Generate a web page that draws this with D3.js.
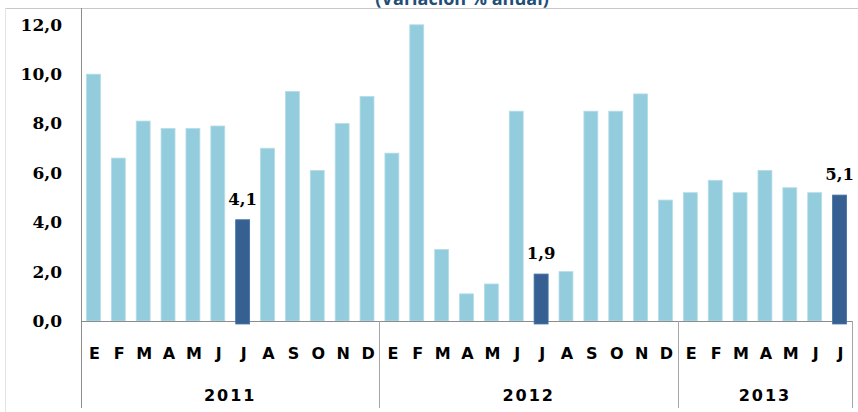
<!DOCTYPE html>
<html>
<head>
<meta charset="utf-8">
<script src="https://cdn.jsdelivr.net/npm/d3@7"></script>
<style>
  html, body { margin: 0; padding: 0; background: #ffffff; }
  svg { display: block; }
</style>
</head>
<body>
<div id="chart"></div>
<script>
// ---- Data ----
const title = "(Variación % anual)";
const years = ["2011", "2012", "2013"];
const monthLabels = ["E", "F", "M", "A", "M", "J", "J", "A", "S", "O", "N", "D"];
const values2011 = [10.0, 6.6, 8.1, 7.8, 7.8, 7.9, 4.1, 7.0, 9.3, 6.1, 8.0, 9.1];
const values2012 = [6.8, 12.0, 2.9, 1.1, 1.5, 8.5, 1.9, 2.0, 8.5, 8.5, 9.2, 4.9];
const values2013 = [5.2, 5.7, 5.2, 6.1, 5.4, 5.2, 5.1];
const highlightMonth = 6; // July of each year is highlighted and labelled
const yTicks = [0, 2, 4, 6, 8, 10, 12];

// Build flat table
const seriesByYear = [values2011, values2012, values2013];
const rows = [];
seriesByYear.forEach((vals, yi) => {
  vals.forEach((v, mi) => {
    rows.push({
      year: years[yi], yearIndex: yi, month: monthLabels[mi], monthIndex: mi, value: v,
      highlight: mi === highlightMonth
    });
  });
});
rows.forEach((r, i) => r.idx = i);

// ---- Layout ----
const W = 858, H = 412;
const plotLeft = 81, plotRight = 852, plotTop = 24.8, plotBottom = 321;
const lightColor = "#93CDDD";
const darkColor = "#376092";
const fmt = v => d3.format(".1f")(v).replace(".", ",");

const svg = d3.select("#chart").append("svg").attr("width", W).attr("height", H);

const x = d3.scaleBand()
  .domain(rows.map(r => r.idx))
  .range([plotLeft, plotRight])
  .paddingInner(0.44)
  .paddingOuter(0.22);

const y = d3.scaleLinear().domain([0, 12]).range([plotBottom, plotTop]);

// Frame lines (chart border)
svg.append("line").attr("x1", 5).attr("x2", W).attr("y1", 8.5).attr("y2", 8.5)
  .attr("stroke", "#c8c8c8").attr("stroke-width", 1);
svg.append("line").attr("x1", 5.5).attr("x2", 5.5).attr("y1", 8).attr("y2", 412)
  .attr("stroke", "#e4e4e4").attr("stroke-width", 1);

// Title (cut at the top edge, as in the reference)
svg.append("text")
  .attr("x", 462).attr("y", 5)
  .attr("text-anchor", "middle")
  .attr("font-family", "'Open Sans', 'DejaVu Sans', sans-serif")
  .attr("font-weight", "bold")
  .attr("font-size", 18)
  .attr("fill", "#1F4E79")
  .text(title);

// Bars
svg.append("g").selectAll("rect")
  .data(rows)
  .join("rect")
  .attr("x", d => x(d.idx))
  .attr("width", x.bandwidth())
  .attr("y", d => y(d.value))
  .attr("height", d => y(0) - y(d.value))
  .attr("fill", lightColor)
  .attr("stroke", "#b5dde8")
  .attr("stroke-width", 0.8);

// Axis baseline
svg.append("line")
  .attr("x1", plotLeft).attr("x2", plotRight)
  .attr("y1", Math.round(y(0)) + 0.5).attr("y2", Math.round(y(0)) + 0.5)
  .attr("stroke", "#8c8c8c").attr("stroke-width", 1);

// Highlighted bars on top of axis line
svg.append("g").selectAll("rect")
  .data(rows.filter(r => r.highlight))
  .join("rect")
  .attr("x", d => x(d.idx))
  .attr("width", x.bandwidth())
  .attr("y", d => y(d.value))
  .attr("height", d => y(0) - y(d.value) + 3)
  .attr("fill", darkColor)
  .attr("stroke", "#4a73a6")
  .attr("stroke-width", 0.8);

// Left axis line
svg.append("line")
  .attr("x1", plotLeft + 0.5).attr("x2", plotLeft + 0.5)
  .attr("y1", 8).attr("y2", 408)
  .attr("stroke", "#8c8c8c").attr("stroke-width", 1);

// Y tick labels
const yAxis = d3.axisLeft(y).tickValues(yTicks).tickFormat(fmt).tickSize(0).tickPadding(19);
const yg = svg.append("g").attr("transform", `translate(${plotLeft},0)`).call(yAxis);
yg.select(".domain").remove();
yg.selectAll("text")
  .attr("font-family", "'DejaVu Serif', serif")
  .attr("font-weight", "bold")
  .attr("font-size", 17)
  .attr("fill", "#000");

// Year separators (category axis group lines)
const yearStarts = [];
let count = 0;
seriesByYear.forEach((vals) => { yearStarts.push(count); count += vals.length; });
const xBoundary = i => plotLeft + (plotRight - plotLeft) * i / rows.length;
[12, 24].forEach(i => {
  svg.append("line")
    .attr("x1", Math.round(xBoundary(i)) + 0.5).attr("x2", Math.round(xBoundary(i)) + 0.5)
    .attr("y1", plotBottom).attr("y2", 408)
    .attr("stroke", "#a6a6a6").attr("stroke-width", 1);
});
svg.append("line")
  .attr("x1", plotRight + 0.5).attr("x2", plotRight + 0.5)
  .attr("y1", plotBottom).attr("y2", 408)
  .attr("stroke", "#a6a6a6").attr("stroke-width", 1);

// Month labels
svg.append("g").selectAll("text")
  .data(rows)
  .join("text")
  .attr("x", d => x(d.idx) + x.bandwidth() / 2 + 1)
  .attr("y", 359)
  .attr("text-anchor", "middle")
  .attr("font-family", "'DejaVu Sans', sans-serif")
  .attr("font-weight", "bold")
  .attr("font-size", 16)
  .attr("fill", "#000")
  .text(d => d.month);

// Year labels
svg.append("g").selectAll("text")
  .data(years)
  .join("text")
  .attr("x", (d, i) => {
    const s = yearStarts[i], e = s + seriesByYear[i].length;
    return (xBoundary(s) + xBoundary(e)) / 2;
  })
  .attr("y", 401)
  .attr("text-anchor", "middle")
  .attr("font-family", "'DejaVu Sans', sans-serif")
  .attr("font-weight", "bold")
  .attr("font-size", 16)
  .attr("letter-spacing", 2)
  .attr("fill", "#000")
  .text(d => d);

// Data labels for highlighted bars
svg.append("g").selectAll("text")
  .data(rows.filter(r => r.highlight))
  .join("text")
  .attr("x", d => x(d.idx) + x.bandwidth() / 2)
  .attr("y", d => y(d.value) - 15)
  .attr("text-anchor", "middle")
  .attr("font-family", "'DejaVu Serif', serif")
  .attr("font-weight", "bold")
  .attr("font-size", 16.5)
  .attr("fill", "#000")
  .text(d => fmt(d.value));
</script>
</body>
</html>
